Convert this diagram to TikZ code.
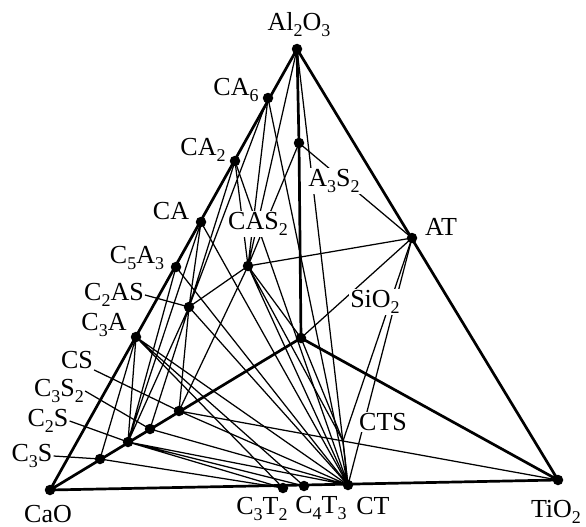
\documentclass[tikz,border=0pt]{standalone}
\usepackage{fontspec}
\setmainfont{Liberation Serif}
% lowered, smaller digits for oxide formulas
\newcommand\subx[1]{\raisebox{-6pt}{\fontsize{18}{18}\selectfont #1}}
\begin{document}
\begin{tikzpicture}[x=1pt,y=-1pt,
  tie/.style={line width=1.25pt},
  bound/.style={line width=2.7pt, line cap=round, line join=round},
  dot/.style={circle, fill=black, inner sep=0pt, minimum size=10.5pt},
  lab/.style={font=\fontsize{26}{30}\selectfont, inner sep=1pt},
  labw/.style={lab, fill=white}]
\useasboundingbox (0,0) rectangle (586,527);

% phase positions
\coordinate (Al)   at (297,49);
\coordinate (CA6)  at (268,98);
\coordinate (CA2)  at (235,161);
\coordinate (CA)   at (201,222);
\coordinate (C5A3) at (176,267);
\coordinate (C3A)  at (136,337);
\coordinate (CaO)  at (50,490);
\coordinate (C3S)  at (100,459);
\coordinate (C2S)  at (128,442);
\coordinate (C3S2) at (150,429);
\coordinate (CS)   at (179,411);
\coordinate (Si)   at (301,338);
\coordinate (A3S2) at (299,143);
\coordinate (AT)   at (412,238);
\coordinate (CAS2) at (248,266);
\coordinate (C2AS) at (189,307);
\coordinate (C3T2) at (283,488);
\coordinate (C4T3) at (304,486);
\coordinate (CT)   at (348,485);
\coordinate (TiO2) at (558,480);
\coordinate (CTS)  at (343,441);

% tie lines, CaO-Al2O3-SiO2 face
\draw[tie] (C3S)--(C3A) (C2S)--(C3A) (C2S)--(C5A3) (C2S)--(CA) (C2S)--(C2AS)
  (C3S2)--(C2AS) (CS)--(C2AS) (CS)--(CAS2) (C2AS)--(CA) (C2AS)--(CA2)
  (C2AS)--(CAS2) (CA2)--(CAS2) (CA6)--(CAS2) (CA6)--(C2AS) (Al)--(CAS2)
  (A3S2)--(CAS2) (Si)--(CAS2);
% CaO-SiO2-TiO2 face
\draw[tie] (C3S)--(C3T2) (C2S)--(C3T2) (C2S)--(C4T3) (C2S)--(CT) (C3S2)--(CT)
  (CS)--(CT) (CS)--(CTS)--(TiO2) (Si)--(CTS) (CT)--(CTS);
% CaO-Al2O3-TiO2 face
\draw[tie] (C3A)--(C3T2) (C3A)--(C4T3) (C3A)--(CT) (C5A3)--(CT) (CA)--(CT)
  (CA2)--(CT) (CA6)--(CT) (Al)--(CT) (AT)--(CT);
% Al2O3-SiO2-TiO2 face and interior edges
\draw[tie] (A3S2)--(AT) (Si)--(AT) (CAS2)--(AT) (CAS2)--(CT) (C2AS)--(CT)
  (AT)--(CTS) (CAS2)--(CTS);

% outline and edges to the SiO2 apex
\draw[bound] (CaO)--(Al) (Al)--(TiO2) (CaO)--(TiO2) (CaO)--(Si)
  (Si)--(A3S2)--(Al) (Si)--(TiO2);

% labels
\node[lab]  (lAl)   at (299,25)  {Al\subx{2}O\subx{3}};
\node[lab]  (lCA6)  at (236,90)  {CA\subx{6}};
\node[lab]  (lCA2)  at (203,150) {CA\subx{2}};
\node[lab]  (lCA)   at (171,211) {CA};
\node[labw] (lCAS2) at (258,224) {CAS\subx{2}};
\node[labw] (lA3S2) at (334,181) {A\subx{3}S\subx{2}};
\node[lab]  (lAT)   at (441,227) {AT};
\node[labw] (lSi)   at (375,302) {SiO\subx{2}};
\node[lab]  (lC5A3) at (137,258) {C\subx{5}A\subx{3}};
\node[lab]  (lC2AS) at (114,295) {C\subx{2}AS};
\node[lab]  (lC3A)  at (104,325) {C\subx{3}A};
\node[lab]  (lCS)   at (77,360)  {CS};
\node[lab]  (lC3S2) at (59,391)  {C\subx{3}S\subx{2}};
\node[lab]  (lC2S)  at (48,421)  {C\subx{2}S};
\node[lab]  (lC3S)  at (32,456)  {C\subx{3}S};
\node[lab]  (lCaO)  at (48,514)  {CaO};
\node[lab]  (lC3T2) at (262,509) {C\subx{3}T\subx{2}};
\node[lab]  (lC4T3) at (321,508) {C\subx{4}T\subx{3}};
\node[lab]  (lCT)   at (373,506) {CT};
\node[lab]  (lTiO2) at (556,512) {TiO\subx{2}};
\node[labw] (lCTS)  at (383,422) {CTS};

% leaders from labels to their points
\draw[tie] (lC2AS.east)--(C2AS) (lCS.south east)--(CS) (lC3S2.east)--(C3S2)
  (lC2S.east)--(C2S) (lC3S.east)--(C3S);

% phase points
\foreach \p in {Al,CA6,CA2,CA,C5A3,C3A,CaO,C3S,C2S,C3S2,CS,Si,A3S2,AT,CAS2,C2AS,C3T2,C4T3,CT,TiO2}
  \node[dot] (d\p) at (\p) {};
\end{tikzpicture}
\end{document}
